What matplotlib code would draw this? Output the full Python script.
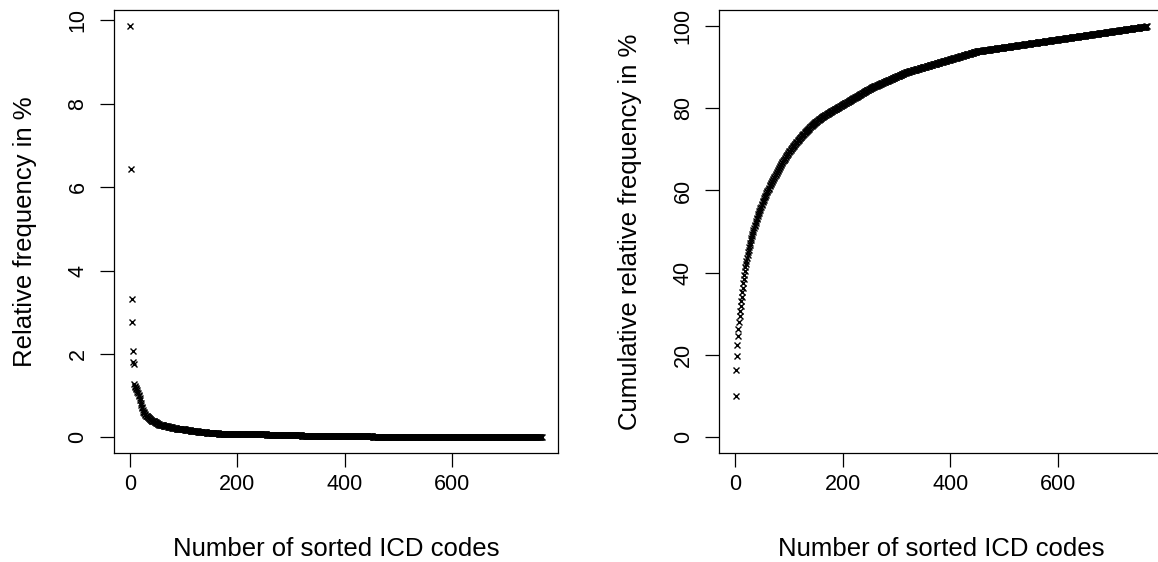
import numpy as np
import matplotlib
matplotlib.use("Agg")
import matplotlib.pyplot as plt

plt.rcParams['font.family'] = ['Liberation Sans', 'DejaVu Sans']

# Counts of the most frequent ICD codes (ranks 1..62)
head_counts = [511, 334, 172, 144, 108, 94, 91,
               66, 64, 63, 61, 60,
               59, 57, 55, 53, 51, 49,
               46, 43, 40, 38, 36, 34, 32,
               31, 30, 29, 28, 27, 26,
               26, 25, 25, 24, 24, 23, 23, 22, 22, 21, 21, 20,
               20, 20, 19, 19, 19, 18, 18, 18, 17, 17, 17, 16, 16,
               16, 16, 15, 15, 15, 15]
# Remaining codes: count level and how many codes share it
tail_levels = [14, 13, 12, 11, 10, 9, 8, 7, 6, 5, 4, 3, 2, 1]
tail_ncodes = [8, 8, 8, 8, 8, 10, 14, 16, 12, 10, 90, 65, 132, 315]

x_ticks = [0, 200, 400, 600]
y_ticks_left = [0, 2, 4, 6, 8, 10]
y_ticks_right = [0, 20, 40, 60, 80, 100]
x_label = "Number of sorted ICD codes"
y_label_left = "Relative frequency in %"
y_label_right = "Cumulative relative frequency in %"

counts = np.concatenate([np.array(head_counts),
                         np.repeat(tail_levels, tail_ncodes)]).astype(float)
rel = counts / counts.sum() * 100
cum = np.cumsum(rel)
ranks = np.arange(1, len(rel) + 1)


def rlim(lo, hi):
    d = (hi - lo) * 0.04
    return lo - d, hi + d


W, H = 1158, 562
fig = plt.figure(figsize=(W / 100, H / 100), dpi=100)
ax1 = fig.add_axes([114 / W, (H - 453) / H, 444 / W, 443 / H])
ax2 = fig.add_axes([719.3 / W, (H - 453) / H, 444 / W, 443 / H])

lab_fs = 18.5
tick_fs = 15.5

for ax, y, yt, yl, ylim in [
        (ax1, rel, y_ticks_left, y_label_left, rlim(rel.min(), rel.max())),
        (ax2, cum, y_ticks_right, y_label_right, rlim(0, 100))]:
    ax.plot(ranks, y, linestyle='none', marker='x', color='black',
            markersize=5, markeredgewidth=1.0)
    ax.set_xlim(*rlim(ranks.min(), ranks.max()))
    ax.set_ylim(*ylim)
    ax.set_xticks(x_ticks)
    ax.set_yticks(yt)
    ax.set_yticklabels([str(v) for v in yt], rotation=90, va='center')
    ax.tick_params(direction='out', length=10.4, width=0.9, labelsize=tick_fs,
                   colors='black')
    ax.tick_params(axis='x', pad=5)
    ax.tick_params(axis='y', pad=8)
    for s in ax.spines.values():
        s.set_linewidth(0.9)
        s.set_color('black')
    ax.set_xlabel(x_label, fontsize=lab_fs, labelpad=30)
    ax.set_ylabel(yl, fontsize=lab_fs, labelpad=22)

fig.savefig("out.png", dpi=100)
